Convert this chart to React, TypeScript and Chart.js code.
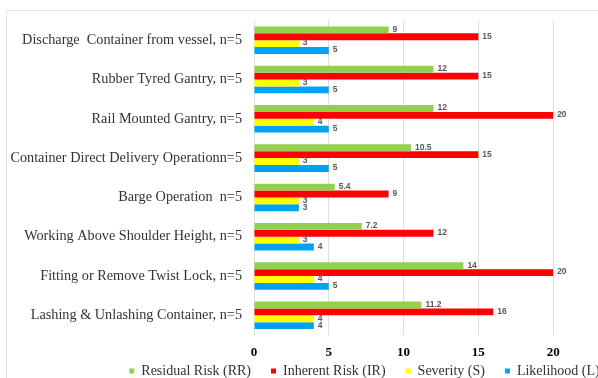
import React, { useEffect, useRef } from "react";
import { Chart, registerables } from "chart.js";

Chart.register(...registerables);

const categories = [
  "Discharge  Container from vessel, n=5",
  "Rubber Tyred Gantry, n=5",
  "Rail Mounted Gantry, n=5",
  "Container Direct Delivery Operationn=5",
  "Barge Operation  n=5",
  "Working Above Shoulder Height, n=5",
  "Fitting or Remove Twist Lock, n=5",
  "Lashing & Unlashing Container, n=5",
];

const residualRisk = [9, 12, 12, 10.5, 5.4, 7.2, 14, 11.2];
const inherentRisk = [15, 15, 20, 15, 9, 12, 20, 16];
const severity = [3, 3, 4, 3, 3, 3, 4, 4];
const likelihood = [5, 5, 5, 5, 3, 4, 5, 4];

const seriesNames = ["Residual Risk (RR)", "Inherent Risk (IR)", "Severity (S)", "Likelihood (L)"];
const seriesColors = ["#92D050", "#FF0000", "#FFFF00", "#00A2F5"];
const xTicks = [0, 5, 10, 15, 20];

const valueLabels = {
  id: "valueLabels",
  afterDatasetsDraw(chart: any) {
    const ctx = chart.ctx;
    ctx.save();
    ctx.font = "bold 8.5px 'Liberation Sans', Arial, sans-serif";
    ctx.fillStyle = "#595959";
    ctx.textAlign = "left";
    ctx.textBaseline = "middle";
    chart.data.datasets.forEach((ds: any, i: number) => {
      const meta = chart.getDatasetMeta(i);
      meta.data.forEach((bar: any, j: number) => {
        ctx.fillText(String(ds.data[j]), bar.x + 4, bar.y - 0.5);
      });
    });
    ctx.restore();
  },
};

export default function App() {
  const ref = useRef<HTMLCanvasElement | null>(null);

  useEffect(() => {
    if (!ref.current) return;
    const values = [residualRisk, inherentRisk, severity, likelihood];
    const chart = new Chart(ref.current, {
      type: "bar",
      data: {
        labels: categories,
        datasets: values.map((d, i) => ({
          label: seriesNames[i],
          data: d,
          backgroundColor: seriesColors[i],
          borderWidth: 0,
          categoryPercentage: 0.7,
          barPercentage: 1.0,
        })),
      },
      options: {
        indexAxis: "y",
        responsive: false,
        animation: false,
        layout: { padding: { top: 15, left: 0, right: -131, bottom: 0 } },
        scales: {
          x: {
            min: 0,
            max: 23,
            afterBuildTicks: (scale: any) => {
              scale.ticks = xTicks.map((v) => ({ value: v }));
            },
            afterFit: (scale: any) => {
              scale.height = 9;
            },
            grid: { color: "#dedede", drawTicks: false },
            border: { display: false },
            ticks: {
              mirror: true,
              padding: -25.5,
              color: "#000",
              font: { family: "'Liberation Serif', 'Times New Roman', serif", size: 13, weight: "bold" },
            },
          },
          y: {
            afterFit: (scale: any) => {
              scale.width = 254;
            },
            grid: { display: false, drawTicks: false },
            border: { display: false },
            ticks: {
              padding: 12,
              color: "#333333",
              font: { family: "'Liberation Serif', 'Times New Roman', serif", size: 14.25 },
            },
          },
        },
        plugins: {
          legend: {
            position: "bottom",
            maxHeight: 34,
            labels: {
              boxWidth: 5,
              boxHeight: 5,
              padding: 20,
              color: "#333333",
              font: { family: "'Liberation Serif', 'Times New Roman', serif", size: 14 },
            },
          },
          tooltip: { enabled: false },
        },
      },
      plugins: [valueLabels],
    } as any);
    return () => chart.destroy();
  }, []);

  return (
    <div style={{ position: "fixed", left: 0, top: 0, width: 598, height: 378, background: "#fff" }}>
      <canvas ref={ref} width={598} height={378} style={{ display: "block" }} />
      <div
        style={{
          position: "absolute",
          left: 6,
          top: 10,
          right: 0,
          bottom: 0,
          borderTop: "1px solid #e3e3e3",
          borderLeft: "1px solid #e3e3e3",
          pointerEvents: "none",
        }}
      />
    </div>
  );
}
